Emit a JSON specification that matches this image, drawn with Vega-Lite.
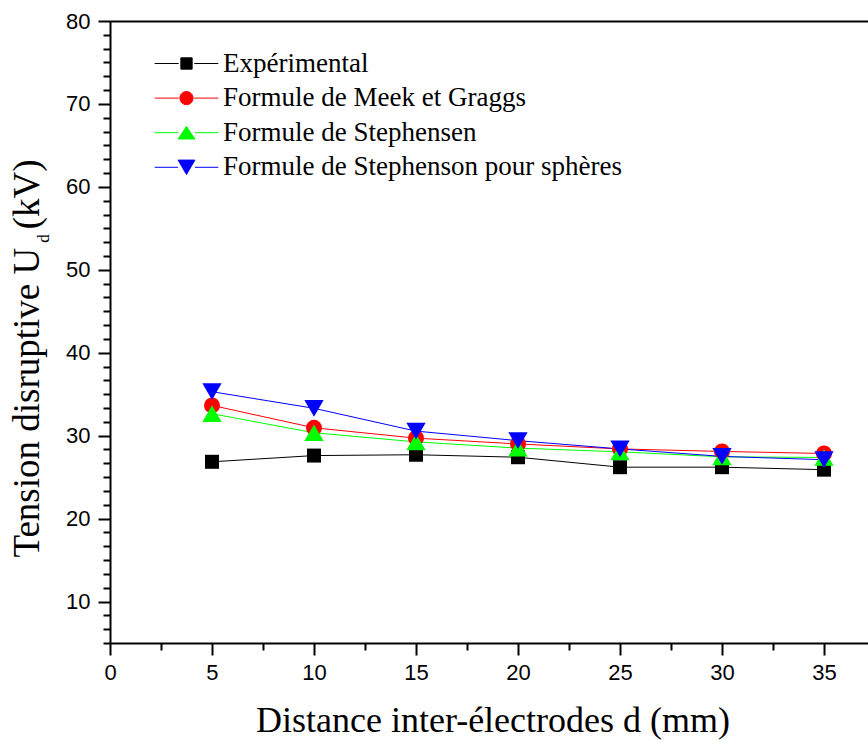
{
  "$schema": "https://vega.github.io/schema/vega-lite/v6.json",
  "width": 758,
  "height": 622,
  "autosize": {"type": "none"},
  "padding": {"left": 110, "top": 21, "right": 0, "bottom": 97},
  "background": "white",
  "config": {
    "view": {"stroke": null},
    "axis": {
      "grid": false,
      "domainColor": "black",
      "tickColor": "black",
      "labelColor": "black",
      "titleColor": "black",
      "labelFont": "Liberation Sans",
      "titleFont": "Liberation Serif",
      "titleFontWeight": "normal",
      "labelFontSize": 22,
      "titleFontSize": 36,
      "domainWidth": 2,
      "tickWidth": 2,
      "labelFlush": false
    }
  },
  "data": {
    "values": [
      {"d": 5, "U": 26.85, "serie": "Expérimental"},
      {"d": 10, "U": 27.6, "serie": "Expérimental"},
      {"d": 15, "U": 27.7, "serie": "Expérimental"},
      {"d": 20, "U": 27.4, "serie": "Expérimental"},
      {"d": 25, "U": 26.2, "serie": "Expérimental"},
      {"d": 30, "U": 26.2, "serie": "Expérimental"},
      {"d": 35, "U": 25.9, "serie": "Expérimental"},
      {"d": 5, "U": 33.65, "serie": "Formule de Meek et Graggs"},
      {"d": 10, "U": 30.95, "serie": "Formule de Meek et Graggs"},
      {"d": 15, "U": 29.7, "serie": "Formule de Meek et Graggs"},
      {"d": 20, "U": 29.0, "serie": "Formule de Meek et Graggs"},
      {"d": 25, "U": 28.4, "serie": "Formule de Meek et Graggs"},
      {"d": 30, "U": 28.1, "serie": "Formule de Meek et Graggs"},
      {"d": 35, "U": 27.85, "serie": "Formule de Meek et Graggs"},
      {"d": 5, "U": 32.65, "serie": "Formule de Stephensen"},
      {"d": 10, "U": 30.35, "serie": "Formule de Stephensen"},
      {"d": 15, "U": 29.25, "serie": "Formule de Stephensen"},
      {"d": 20, "U": 28.5, "serie": "Formule de Stephensen"},
      {"d": 25, "U": 28.05, "serie": "Formule de Stephensen"},
      {"d": 30, "U": 27.45, "serie": "Formule de Stephensen"},
      {"d": 35, "U": 27.37, "serie": "Formule de Stephensen"},
      {"d": 5, "U": 35.3, "serie": "Formule de Stephenson pour sphères"},
      {"d": 10, "U": 33.3, "serie": "Formule de Stephenson pour sphères"},
      {"d": 15, "U": 30.55, "serie": "Formule de Stephenson pour sphères"},
      {"d": 20, "U": 29.4, "serie": "Formule de Stephenson pour sphères"},
      {"d": 25, "U": 28.4, "serie": "Formule de Stephenson pour sphères"},
      {"d": 30, "U": 27.5, "serie": "Formule de Stephenson pour sphères"},
      {"d": 35, "U": 27.1, "serie": "Formule de Stephenson pour sphères"}
    ]
  },
  "layer": [
    {
      "mark": {"type": "line", "strokeWidth": 1},
      "encoding": {
        "x": {
          "field": "d", "type": "quantitative",
          "scale": {"domain": [0, 37.157], "nice": false, "zero": false},
          "axis": {
            "orient": "bottom",
            "values": [0, 5, 10, 15, 20, 25, 30, 35],
            "tickSize": 12,
            "labelPadding": 7,
            "title": "Distance inter-électrodes d (mm)",
            "titleX": 382.5,
            "titleY": 88,
            "titleBaseline": "alphabetic",
            "titleAlign": "center",
            "titleAngle": 0
          }
        },
        "y": {
          "field": "U", "type": "quantitative",
          "scale": {"domain": [5, 80], "nice": false, "zero": false},
          "axis": {
            "orient": "left",
            "values": [10, 20, 30, 40, 50, 60, 70, 80],
            "tickSize": 12,
            "labelPadding": 8,
            "title": "Tension disruptive U\u2005 (kV)",
            "titleFontSize": 37,
            "titleX": -72,
            "titleY": 337,
            "titleAngle": 270,
            "titleBaseline": "alphabetic",
            "titleAlign": "center"
          }
        },
        "color": {
          "field": "serie", "type": "nominal",
          "scale": {
            "domain": ["Expérimental", "Formule de Meek et Graggs", "Formule de Stephensen", "Formule de Stephenson pour sphères"],
            "range": ["#000000", "#ff0000", "#00ff00", "#0000ff"]
          },
          "legend": null
        }
      }
    },
    {
      "mark": {"type": "point", "filled": true, "opacity": 1},
      "encoding": {
        "x": {
          "field": "d", "type": "quantitative",
          "axis": {
            "orient": "bottom",
            "values": [2.5, 7.5, 12.5, 17.5, 22.5, 27.5, 32.5],
            "tickSize": 7,
            "labels": false,
            "domain": false,
            "title": null
          }
        },
        "y": {
          "field": "U", "type": "quantitative",
          "axis": {
            "orient": "left",
            "values": [5, 6.667, 8.333, 11.667, 13.333, 15, 16.667, 18.333, 21.667, 23.333, 25, 26.667, 28.333, 31.667, 33.333, 35, 36.667, 38.333, 41.667, 43.333, 45, 46.667, 48.333, 51.667, 53.333, 55, 56.667, 58.333, 61.667, 63.333, 65, 66.667, 68.333, 71.667, 73.333, 75, 76.667, 78.333],
            "tickSize": 7,
            "labels": false,
            "domain": false,
            "title": null
          }
        },
        "color": {
          "field": "serie", "type": "nominal",
          "scale": {
            "domain": ["Expérimental", "Formule de Meek et Graggs", "Formule de Stephensen", "Formule de Stephenson pour sphères"],
            "range": ["#000000", "#ff0000", "#00ff00", "#0000ff"]
          },
          "legend": null
        },
        "shape": {
          "field": "serie", "type": "nominal",
          "scale": {
            "domain": ["Expérimental", "Formule de Meek et Graggs", "Formule de Stephensen", "Formule de Stephenson pour sphères"],
            "range": ["square", "circle", "triangle-up", "triangle-down"]
          },
          "legend": null
        },
        "size": {
          "condition": [
            {"test": "datum.serie === 'Expérimental'", "value": 196},
            {"test": "datum.serie === 'Formule de Meek et Graggs'", "value": 256}
          ],
          "value": 372
        }
      }
    },
    {
      "transform": [{"filter": "datum.U < 0"}],
      "mark": {"type": "point", "filled": true},
      "encoding": {
        "x": {
          "field": "d", "type": "quantitative",
          "axis": {
            "orient": "top",
            "ticks": false,
            "labels": false,
            "domain": true,
            "title": null
          }
        },
        "y": {
          "field": "U", "type": "quantitative",
          "axis": {
            "orient": "left",
            "ticks": false,
            "labels": false,
            "domain": false,
            "title": "d",
            "titleFontSize": 17,
            "titleX": -62,
            "titleY": 217,
            "titleAngle": 270,
            "titleBaseline": "alphabetic",
            "titleAlign": "center"
          }
        },
        "fill": {
          "field": "serie", "type": "nominal",
          "scale": {
            "domain": ["Expérimental", "Formule de Meek et Graggs", "Formule de Stephensen", "Formule de Stephenson pour sphères"],
            "range": ["#000000", "#ff0000", "#00ff00", "#0000ff"]
          },
          "legend": {
            "orient": "none", "legendX": 63, "legendY": 29, "title": null,
            "symbolSize": 144, "symbolStrokeWidth": 1, "symbolOpacity": 1,
            "labelFont": "Liberation Serif", "labelFontSize": 27, "labelColor": "black",
            "labelOffset": 23, "rowPadding": 6.6, "padding": 0, "labelLimit": 0
          }
        },
        "stroke": {
          "field": "serie", "type": "nominal",
          "scale": {
            "domain": ["Expérimental", "Formule de Meek et Graggs", "Formule de Stephensen", "Formule de Stephenson pour sphères"],
            "range": ["#000000", "#ff0000", "#00ff00", "#0000ff"]
          },
          "legend": {
            "orient": "none", "legendX": 63, "legendY": 29, "title": null,
            "symbolSize": 144, "symbolStrokeWidth": 1, "symbolOpacity": 1,
            "labelFont": "Liberation Serif", "labelFontSize": 27, "labelColor": "black",
            "labelOffset": 23, "rowPadding": 6.6, "padding": 0, "labelLimit": 0
          }
        },
        "shape": {
          "field": "serie", "type": "nominal",
          "scale": {
            "domain": ["Expérimental", "Formule de Meek et Graggs", "Formule de Stephensen", "Formule de Stephenson pour sphères"],
            "range": [
              "M-5.3,0H-1.3M1.3,0H5.3M-0.94,-0.94H0.94V0.94H-0.94Z",
              "M-5.3,0H-1.3M1.3,0H5.3M-1.1,0A1.1,1.1,0,1,0,1.1,0A1.1,1.1,0,1,0,-1.1,0Z",
              "M-5.3,0H-1.4M1.4,0H5.3M0,-1.05L1.4,1.05L-1.4,1.05Z",
              "M-5.3,0H-1.4M1.4,0H5.3M-1.4,-1.2L1.4,-1.2L0,1.2Z"
            ]
          },
          "legend": {
            "orient": "none", "legendX": 63, "legendY": 29, "title": null,
            "symbolSize": 144, "symbolStrokeWidth": 1, "symbolOpacity": 1,
            "labelFont": "Liberation Serif", "labelFontSize": 27, "labelColor": "black",
            "labelOffset": 23, "rowPadding": 6.6, "padding": 0, "labelLimit": 0
          }
        }
      }
    }
  ],
  "resolve": {
    "scale": {"color": "independent", "shape": "independent", "fill": "independent", "stroke": "independent"},
    "axis": {"x": "independent", "y": "independent"}
  }
}
